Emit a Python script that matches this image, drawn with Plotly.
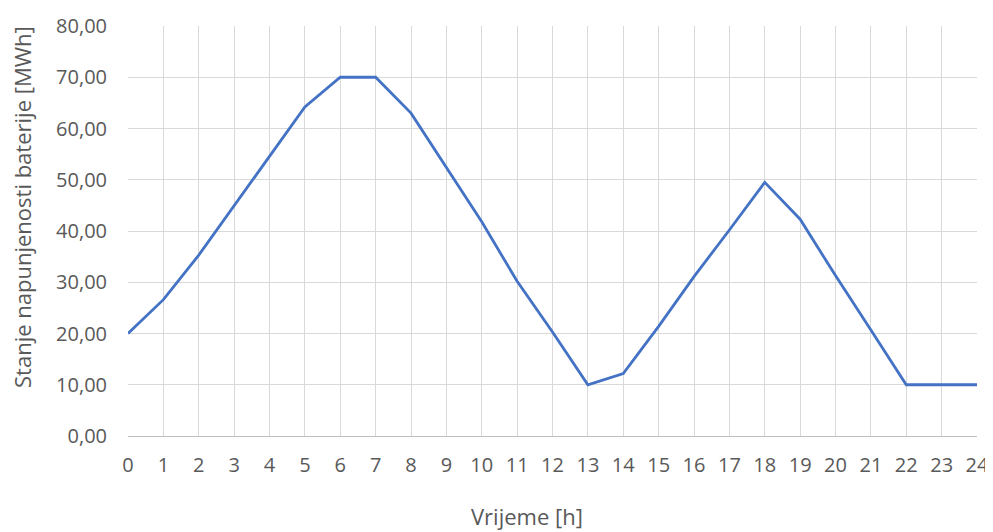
import plotly.graph_objects as go

hours = list(range(25))
soc = [20.0, 26.6, 35.3, 45.0, 54.6, 64.2, 70.0, 70.0, 63.0, 52.3, 41.8, 30.2,
       20.3, 10.0, 12.2, 21.4, 31.1, 40.2, 49.5, 42.3, 31.3, 20.7, 10.0, 10.0, 10.0]
x_title = "Vrijeme [h]"
y_title = "Stanje napunjenosti baterije [MWh]"

FONT = "Open Sans"
GREY = "#595959"
fig = go.Figure()
fig.add_trace(go.Scatter(x=hours, y=soc, mode="lines",
                         line=dict(color="#4472C4", width=2.8), showlegend=False))

fig.update_layout(
    width=985, height=524,
    margin=dict(l=120, r=16, t=18, b=96),
    paper_bgcolor="white", plot_bgcolor="white",
    separators=",.",
    font=dict(family=FONT, color=GREY),
    xaxis=dict(
        range=[0, 24], tickmode="array", tickvals=hours,
        ticktext=[str(h) for h in hours],
        showgrid=True, gridcolor="#D9D9D9", gridwidth=1,
        zeroline=False, showline=True, linecolor="#BFBFBF",
        tickfont=dict(family=FONT, size=20, color=GREY),
        ticks="", ticklabelstandoff=11, automargin=False,
    ),
    yaxis=dict(
        range=[0, 80], dtick=10, tickformat=".2f",
        showgrid=True, gridcolor="#D9D9D9", gridwidth=1,
        zeroline=False, showline=False,
        tickfont=dict(family=FONT, size=20, color=GREY),
        ticks="", ticklabelstandoff=20, automargin=False,
    ),
    annotations=[
        dict(text=x_title, xref="paper", yref="paper", x=0.47, y=-0.196,
             xanchor="center", yanchor="middle", showarrow=False,
             font=dict(family=FONT, size=22, color=GREY)),
        dict(text=y_title, xref="paper", yref="paper", x=-0.1249, y=0.5585,
             xanchor="center", yanchor="middle", textangle=-90, showarrow=False,
             font=dict(family=FONT, size=22, color=GREY)),
    ],
)

fig.write_html("out.html")
